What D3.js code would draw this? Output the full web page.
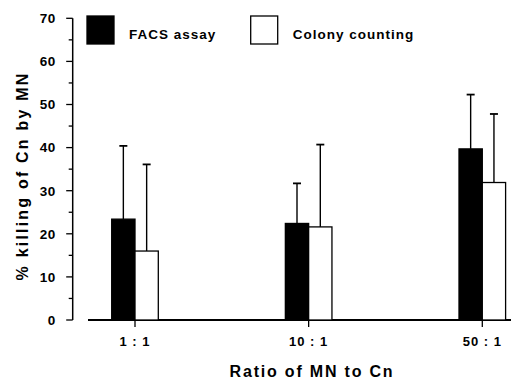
<!DOCTYPE html>
<html><head><meta charset="utf-8">
<script src="https://cdn.jsdelivr.net/npm/d3@7"></script>
<style>body{margin:0;background:#fff}svg{display:block}text{font-family:"Liberation Sans",Arial,sans-serif;fill:#000}</style>
</head><body>
<svg id="c" width="513" height="384"></svg>
<script>
const categories = ["1 : 1", "10 : 1", "50 : 1"];
const seriesNames = ["FACS assay", "Colony counting"];
const facsValues = [23.4, 22.4, 39.7];
const facsErrors = [40.4, 31.7, 52.3];
const colonyValues = [16.0, 21.6, 31.9];
const colonyErrors = [36.1, 40.7, 47.8];
const yTicks = [0, 10, 20, 30, 40, 50, 60, 70];

const svg = d3.select("#c");
const y = d3.scaleLinear().domain([0, 70]).range([320, 18.3]);
const x = d3.scalePoint().domain(categories).range([135, 482.3]);
const bw = 23.3;

// y axis
const ya = svg.append("g").attr("transform", "translate(72.7,0)");
ya.append("line").attr("x1", 0).attr("x2", 0).attr("y1", y(0)).attr("y2", y(70)).attr("stroke", "#000").attr("stroke-width", 1.5);
d3.range(0, 71, 5).forEach(v => {
  const major = v % 10 === 0;
  ya.append("line").attr("x1", major ? -6.5 : -4).attr("x2", 0).attr("y1", y(v)).attr("y2", y(v)).attr("stroke", "#000").attr("stroke-width", 1.3);
});
yTicks.forEach(v => {
  ya.append("text").attr("x", -17).attr("y", y(v)).attr("dy", "0.36em").attr("text-anchor", "end")
    .attr("font-size", 13.5).attr("font-weight", "bold").attr("letter-spacing", 0.5).text(v);
});

// x axis
svg.append("line").attr("x1", 88).attr("x2", 511).attr("y1", y(0)).attr("y2", y(0)).attr("stroke", "#000").attr("stroke-width", 2);
categories.forEach(c => {
  svg.append("line").attr("x1", x(c)).attr("x2", x(c)).attr("y1", y(0)).attr("y2", y(0) + 7).attr("stroke", "#000").attr("stroke-width", 1.3);
  svg.append("text").attr("x", x(c)).attr("y", 346).attr("text-anchor", "middle").attr("font-size", 13)
    .attr("font-weight", "bold").attr("letter-spacing", 1).text(c);
});

// bars
const series = [
  {vals: facsValues, errs: facsErrors, fill: "#000", off: -bw},
  {vals: colonyValues, errs: colonyErrors, fill: "#fff", off: 0}
];
series.forEach(s => {
  categories.forEach((c, i) => {
    const x0 = x(c) + s.off;
    const cx = x0 + bw / 2;
    svg.append("line").attr("x1", cx).attr("x2", cx).attr("y1", y(s.vals[i])).attr("y2", y(s.errs[i])).attr("stroke", "#000").attr("stroke-width", 1.4);
    svg.append("line").attr("x1", cx - 4).attr("x2", cx + 4).attr("y1", y(s.errs[i])).attr("y2", y(s.errs[i])).attr("stroke", "#000").attr("stroke-width", 1.8);
    svg.append("rect").attr("x", x0).attr("y", y(s.vals[i])).attr("width", bw).attr("height", y(0) - y(s.vals[i]))
      .attr("fill", s.fill).attr("stroke", "#000").attr("stroke-width", 1.3);
  });
});

// legend
const leg = [{x: 87, fill: "#000"}, {x: 250.7, fill: "#fff"}];
leg.forEach((l, i) => {
  svg.append("rect").attr("x", l.x).attr("y", 16).attr("width", 27).attr("height", 28).attr("fill", l.fill).attr("stroke", "#000").attr("stroke-width", 1.3);
  svg.append("text").attr("x", l.x + 42).attr("y", 34).attr("dy", "0.36em").attr("font-size", 13.5).attr("font-weight", "bold")
    .attr("letter-spacing", 1).text(seriesNames[i]);
});

// axis titles
svg.append("text").attr("transform", "translate(28,176) rotate(-90)").attr("text-anchor", "middle").attr("font-size", 16)
  .attr("font-weight", "bold").attr("letter-spacing", 2.2).text("% killing of Cn by MN");
svg.append("text").attr("x", 312).attr("y", 377).attr("text-anchor", "middle").attr("font-size", 16)
  .attr("font-weight", "bold").attr("letter-spacing", 1.8).text("Ratio of MN to Cn");
</script>
</body></html>
